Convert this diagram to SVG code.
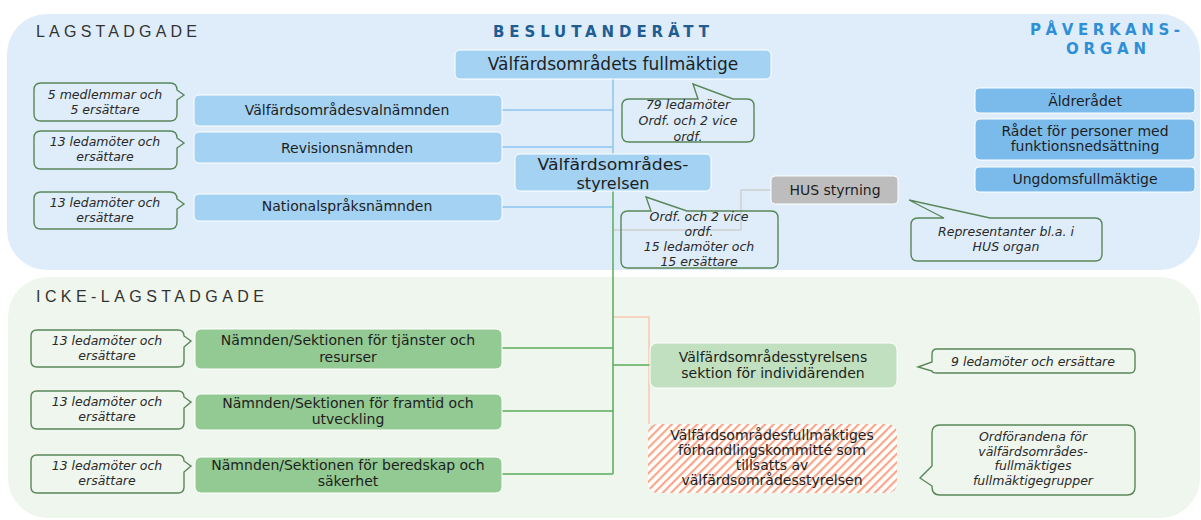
<svg xmlns="http://www.w3.org/2000/svg" width="1201" height="520" viewBox="0 0 1201 520">
<defs>
<style>
.t{font-family:"DejaVu Sans",Verdana,sans-serif;fill:#1e1e1e;text-anchor:middle}
.n14{font-size:14px}
.n17{font-size:17px}
.n16{font-size:16px}
.c{font-family:"DejaVu Sans",Verdana,sans-serif;font-style:italic;font-size:12.5px;fill:#2a2a2a;text-anchor:middle}
.call{fill:none;stroke:#5a875a;stroke-width:1.4}
.blue{fill:#a4d2f3;stroke:#ffffff;stroke-width:1}
.blue2{fill:#7bbbec;stroke:#ffffff;stroke-width:1}
.green{fill:#93c993;stroke:#ffffff;stroke-width:1}
.green2{fill:#c0e0c0;stroke:#ffffff;stroke-width:1}
.gray{fill:#bdbdbd;stroke:#ffffff;stroke-width:1}
.h{font-family:"Liberation Sans",Arial,sans-serif;font-size:16px;fill:#333333}
.hb{font-family:"DejaVu Sans",Verdana,sans-serif;font-weight:bold}
.cb{fill:none;stroke:#8cc4ee;stroke-width:1.5}
.cg{fill:none;stroke:#5aab5a;stroke-width:1.5}
.cs{fill:none;stroke:#f8c9b0;stroke-width:1.5}
.cy{fill:none;stroke:#d0d0d0;stroke-width:1.5}
</style>
<pattern id="hatch" patternUnits="userSpaceOnUse" width="6" height="6" patternTransform="rotate(45)">
<rect width="6" height="6" fill="#ffffff"/>
<rect width="2.2" height="6" fill="#f7a88b"/>
</pattern>
</defs>

<g id="panels">
<rect x="7" y="14" width="1193" height="256" rx="40" fill="#deedf9"/>
<rect x="8" y="277" width="1192" height="241" rx="40" fill="#eff6ee"/>
</g>

<g id="headings">
<text class="h" x="36" y="37" textLength="161" lengthAdjust="spacing">LAGSTADGADE</text>
<text class="h" x="36" y="302" textLength="228" lengthAdjust="spacing">ICKE-LAGSTADGADE</text>
<text class="hb" x="493" y="37" font-size="15" fill="#1f5e92" textLength="216" lengthAdjust="spacing">BESLUTANDERÄTT</text>
<text class="hb" x="1030" y="35" font-size="15" fill="#2e8fd8" textLength="150" lengthAdjust="spacing">PÅVERKANS-</text>
<text class="hb" x="1066" y="54" font-size="15" fill="#2e8fd8" textLength="80" lengthAdjust="spacing">ORGAN</text>
</g>

<g id="connectors">
<path class="cb" d="M613,79 V154"/>
<path class="cb" d="M502,110 H613"/>
<path class="cb" d="M502,147 H613"/>
<path class="cb" d="M502,207 H613"/>
<path class="cy" d="M771,190 H741 V230 H614"/>
<path class="cs" d="M613,317 H649 V424"/>
<path class="cg" d="M613,191 V474"/>
<path class="cg" d="M502,348 H613"/>
<path class="cg" d="M502,411 H613"/>
<path class="cg" d="M502,474 H613"/>
<path class="cg" d="M613,365 H650"/>
</g>

<g id="fullmaktige">
<rect class="blue" x="455" y="50" width="316" height="29" rx="5"/>
<text class="t n17" x="613" y="70">Välfärdsområdets fullmäktige</text>
</g>
<g id="valnamnden">
<rect class="blue" x="194" y="95" width="308" height="31" rx="5"/>
<text class="t n14" x="347" y="115">Välfärdsområdesvalnämnden</text>
</g>
<g id="revisionsnamnden">
<rect class="blue" x="194" y="132" width="308" height="31" rx="5"/>
<text class="t n14" x="347" y="153">Revisionsnämnden</text>
</g>
<g id="nationalsprak">
<rect class="blue" x="194" y="194" width="308" height="27" rx="5"/>
<text class="t n14" x="347" y="211">Nationalspråksnämnden</text>
</g>
<g id="styrelsen">
<rect class="blue" x="515" y="154" width="196" height="37" rx="5"/>
<text class="t n16" x="613" y="169.5" textLength="151" lengthAdjust="spacingAndGlyphs">Välfärdsområdes-</text>
<text class="t n16" x="613" y="188.5">styrelsen</text>
</g>
<g id="hus">
<rect class="gray" x="771" y="176" width="127" height="28" rx="4"/>
<text class="t n14" x="835" y="195">HUS styrning</text>
</g>
<g id="aldreradet">
<rect class="blue2" x="975" y="88" width="220" height="25" rx="4"/>
<text class="t n14" x="1085" y="106">Äldrerådet</text>
</g>
<g id="funktionsradet">
<rect class="blue2" x="975" y="119" width="220" height="41" rx="5"/>
<text class="t n14" x="1085" y="136">Rådet för personer med</text>
<text class="t n14" x="1085" y="151">funktionsnedsättning</text>
</g>
<g id="ungdomsfullmaktige">
<rect class="blue2" x="975" y="167" width="220" height="25" rx="4"/>
<text class="t n14" x="1085" y="184">Ungdomsfullmäktige</text>
</g>

<g id="tjanster">
<rect class="green" x="195" y="329" width="307" height="40" rx="6"/>
<text class="t n14" x="348" y="345">Nämnden/Sektionen för tjänster och</text>
<text class="t n14" x="348" y="362">resurser</text>
</g>
<g id="framtid">
<rect class="green" x="195" y="394" width="307" height="36" rx="6"/>
<text class="t n14" x="348" y="408">Nämnden/Sektionen för framtid och</text>
<text class="t n14" x="348" y="424">utveckling</text>
</g>
<g id="beredskap">
<rect class="green" x="195" y="457" width="307" height="36" rx="6"/>
<text class="t n14" x="348" y="470">Nämnden/Sektionen för beredskap och</text>
<text class="t n14" x="348" y="486">säkerhet</text>
</g>
<g id="individarenden">
<rect class="green2" x="650" y="343" width="247" height="45" rx="7"/>
<text class="t n14" x="773" y="362">Välfärdsområdesstyrelsens</text>
<text class="t n14" x="773" y="378">sektion för individärenden</text>
</g>
<g id="forhandlingskommitte">
<rect x="648" y="424" width="249" height="69" rx="9" fill="url(#hatch)"/>
<text class="t n14" x="772" y="440">Välfärdsområdesfullmäktiges</text>
<text class="t n14" x="772" y="455">förhandlingskommitté som</text>
<text class="t n14" x="772" y="470">tillsatts av</text>
<text class="t n14" x="772" y="485">välfärdsområdesstyrelsen</text>
</g>

<g id="callout-val">
<path class="call" d="M41,83 H170 Q177,83 177,90 L184,95 L177,100 V114 Q177,121 170,121 H41 Q34,121 34,114 V90 Q34,83 41,83 Z"/>
<text class="c" x="105" y="99">5 medlemmar och</text>
<text class="c" x="105" y="114">5 ersättare</text>
</g>
<g id="callout-rev">
<path class="call" d="M41,131 H170 Q177,131 177,138 L184,143 L177,148 V162 Q177,169 170,169 H41 Q34,169 34,162 V138 Q34,131 41,131 Z"/>
<text class="c" x="105" y="146">13 ledamöter och</text>
<text class="c" x="105" y="161">ersättare</text>
</g>
<g id="callout-nat">
<path class="call" d="M41,192 H170 Q177,192 177,199 L184,204 L177,209 V222 Q177,229 170,229 H41 Q34,229 34,222 V199 Q34,192 41,192 Z"/>
<text class="c" x="105" y="207">13 ledamöter och</text>
<text class="c" x="105" y="222">ersättare</text>
</g>
<g id="callout-fullm">
<path class="call" d="M629,99 H698 L693,84 L733,99 H747 Q754,99 754,106 V135 Q754,142 747,142 H629 Q622,142 622,135 V106 Q622,99 629,99 Z"/>
<text class="c" x="688" y="109">79 ledamöter</text>
<text class="c" x="688" y="125">Ordf. och 2 vice</text>
<text class="c" x="688" y="141">ordf.</text>
</g>
<g id="callout-styr">
<path class="call" d="M628,211 H651 L646,197 L687,211 H771 Q778,211 778,218 V261 Q778,268 771,268 H628 Q621,268 621,261 V218 Q621,211 628,211 Z"/>
<text class="c" x="699" y="221">Ordf. och 2 vice</text>
<text class="c" x="699" y="236">ordf.</text>
<text class="c" x="699" y="251">15 ledamöter och</text>
<text class="c" x="699" y="266">15 ersättare</text>
</g>
<g id="callout-hus">
<path class="call" d="M918,218 H944 L909,200 L990,218 H1095 Q1102,218 1102,225 V254 Q1102,261 1095,261 H918 Q911,261 911,254 V225 Q911,218 918,218 Z"/>
<text class="c" x="1006" y="236">Representanter bl.a. i</text>
<text class="c" x="1006" y="251">HUS organ</text>
</g>
<g id="callout-tjanster">
<path class="call" d="M37,330 H178 Q184,330 184,336 L191,341 L184,347 V361 Q184,367 178,367 H37 Q31,367 31,361 V336 Q31,330 37,330 Z"/>
<text class="c" x="107" y="345">13 ledamöter och</text>
<text class="c" x="107" y="360">ersättare</text>
</g>
<g id="callout-framtid">
<path class="call" d="M37,391 H178 Q184,391 184,397 L191,402 L184,408 V423 Q184,429 178,429 H37 Q31,429 31,423 V397 Q31,391 37,391 Z"/>
<text class="c" x="107" y="406">13 ledamöter och</text>
<text class="c" x="107" y="421">ersättare</text>
</g>
<g id="callout-beredskap">
<path class="call" d="M37,455 H178 Q184,455 184,461 L191,466 L184,472 V487 Q184,493 178,493 H37 Q31,493 31,487 V461 Q31,455 37,455 Z"/>
<text class="c" x="107" y="470">13 ledamöter och</text>
<text class="c" x="107" y="485">ersättare</text>
</g>
<g id="callout-individ">
<path class="call" d="M937,349 H1130 Q1135,349 1135,354 V368 Q1135,373 1130,373 H937 Q932,373 932,371 L918,367 L932,362 V354 Q932,349 937,349 Z"/>
<text class="c" x="1033" y="366">9 ledamöter och ersättare</text>
</g>
<g id="callout-kommitte">
<path class="call" d="M940,425 H1127 Q1135,425 1135,433 V487 Q1135,495 1127,495 H940 Q932,495 932,487 V486 L920,478 L932,466 V433 Q932,425 940,425 Z"/>
<text class="c" x="1033" y="441">Ordförandena för</text>
<text class="c" x="1033" y="455.5">välfärdsområdes-</text>
<text class="c" x="1033" y="470">fullmäktiges</text>
<text class="c" x="1033" y="484.5">fullmäktigegrupper</text>
</g>
</svg>
